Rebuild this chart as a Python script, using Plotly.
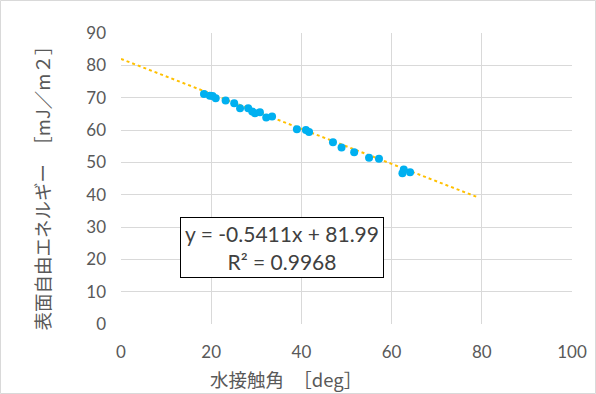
import plotly.graph_objects as go

# Data
contact_angle = [18.4, 19.7, 20.3, 21.0, 23.2, 25.1, 26.4, 28.2, 29.1, 29.7, 30.8,
                 32.2, 33.5, 39.0, 41.0, 41.7, 47.0, 48.9, 51.7, 55.0, 57.2,
                 62.4, 62.7, 64.1]
surface_energy = [71.1, 70.6, 70.5, 69.8, 69.1, 68.3, 66.7, 66.7, 65.7, 65.2, 65.5,
                  63.9, 64.2, 60.2, 60.0, 59.4, 56.2, 54.6, 53.1, 51.4, 51.1,
                  46.6, 47.8, 46.9]
slope = -0.5411
intercept = 81.99
r_squared = 0.9968
trend_x = [0, 79]
trend_y = [slope * v + intercept for v in trend_x]

W, H = 596, 394
L, R, T, B = 121, 24, 33, 70
pw, ph = W - L - R, H - T - B

fig = go.Figure()
fig.add_trace(go.Scatter(x=trend_x, y=trend_y, mode="lines",
                         line=dict(color="#FFC000", width=2, dash="dot"),
                         showlegend=False, hoverinfo="skip"))
fig.add_trace(go.Scatter(x=contact_angle, y=surface_energy, mode="markers",
                         marker=dict(color="#00B0F0", size=8, line=dict(width=0)),
                         showlegend=False))

tickfont = dict(family="Lato, Carlito, sans-serif", size=17, color="#595959")
titlefont = dict(family="Noto Sans CJK JP", size=18.5, color="#595959")

fig.update_xaxes(range=[0, 100], dtick=20, showgrid=True, gridcolor="#D9D9D9",
                 gridwidth=1, zeroline=False, showline=False, tickfont=tickfont,
                 ticks="", automargin=False, ticklabelstandoff=16)
fig.update_yaxes(range=[0, 90], dtick=10, showgrid=True, gridcolor="#D9D9D9",
                 gridwidth=1, zeroline=False, showline=False, tickfont=tickfont,
                 ticks="", automargin=False, ticklabelstandoff=14)

fig.add_annotation(x=0.366, y=-(379 - 324) / ph, xref="paper", yref="paper",
                   text="水接触角　［deg］", showarrow=False, font=titlefont,
                   xanchor="center", yanchor="middle")
fig.add_annotation(x=-(121 - 42) / pw, y=(324 - 183.5) / ph, xref="paper", yref="paper",
                   text="表面自由エネルギー　［mJ／m２］", showarrow=False, font=titlefont,
                   textangle=-90, xanchor="center", yanchor="middle")

fig.add_annotation(x=35.7, y=23.75, xref="x", yref="y",
                   text=f"y = {slope}x + {intercept}<br>R² = {r_squared}",
                   showarrow=False, align="center", width=198, height=55,
                   font=dict(family="Lato, Carlito, sans-serif", size=21, color="#404040"),
                   bgcolor="white", bordercolor="black", borderwidth=1, borderpad=2)

# outer chart border
fig.add_shape(type="rect", xref="paper", yref="paper",
              x0=-(L - 0.5) / pw, x1=1 + (R - 0.5) / pw,
              y0=-(B - 0.5) / ph, y1=1 + (T - 0.5) / ph,
              line=dict(color="#D9D9D9", width=1), layer="below")

fig.update_layout(width=W, height=H, margin=dict(l=L, r=R, t=T, b=B),
                  plot_bgcolor="white", paper_bgcolor="white")

fig.write_html("out.html", config={"displayModeBar": False},
               post_script="document.body.style.margin='0';document.body.style.overflow='hidden';")
